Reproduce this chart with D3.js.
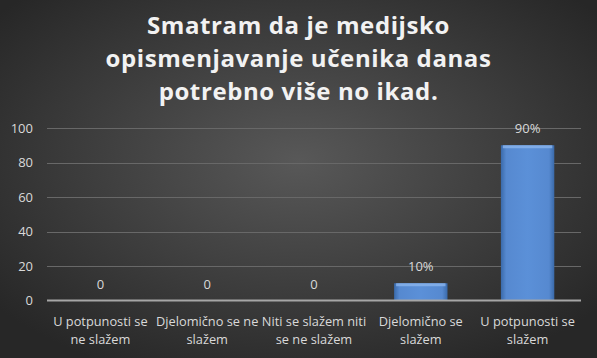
<!DOCTYPE html>
<html><head><meta charset="utf-8">
<script src="https://cdn.jsdelivr.net/npm/d3@7"></script>
<style>html,body{margin:0;padding:0;background:#3a3a3a;}svg{display:block;}</style>
</head><body>
<script>
const categories = [["U potpunosti se","ne slažem"],["Djelomično se ne","slažem"],["Niti se slažem niti","se ne slažem"],["Djelomično se","slažem"],["U potpunosti se","slažem"]];
const values = [0,0,0,10,90];
const labels = ["0","0","0","10%","90%"];
const yTicks = [0,20,40,60,80,100];
const titleLines = ["Smatram da je medijsko","opismenjavanje učenika danas","potrebno više no ikad."];

const W=597,H=358;
const svg=d3.select("body").append("svg").attr("width",W).attr("height",H);
const defs=svg.append("defs");
const bg=defs.append("radialGradient").attr("id","bg").attr("cx","50%").attr("cy","45%").attr("r","65%");
bg.append("stop").attr("offset","0%").attr("stop-color","#585858");
bg.append("stop").attr("offset","100%").attr("stop-color","#272727");
svg.append("rect").attr("width",W).attr("height",H).attr("fill","url(#bg)");

const bar=defs.append("linearGradient").attr("id","bar").attr("x1","0").attr("x2","1").attr("y1","0").attr("y2","0");
bar.append("stop").attr("offset","0%").attr("stop-color","#3a6aaa");
bar.append("stop").attr("offset","10%").attr("stop-color","#5689d0");
bar.append("stop").attr("offset","50%").attr("stop-color","#5b90d8");
bar.append("stop").attr("offset","90%").attr("stop-color","#5689d0");
bar.append("stop").attr("offset","100%").attr("stop-color","#3a6aaa");

const x=d3.scaleBand().domain(d3.range(categories.length)).range([47,581]).paddingInner(0.5).paddingOuter(0.25);
const y=d3.scaleLinear().domain([0,100]).range([300.5,128]);

// gridlines
svg.append("g").selectAll("line").data(yTicks.filter(d=>d>0)).join("line")
 .attr("x1",47).attr("x2",581).attr("y1",d=>Math.round(y(d))+0.5).attr("y2",d=>Math.round(y(d))+0.5)
 .attr("stroke","#686868").attr("stroke-width",1);

// y axis labels via axis
const yAxis=svg.append("g").attr("transform","translate(33,0)").call(d3.axisLeft(y).tickValues(yTicks).tickSize(0).tickPadding(0));
yAxis.select(".domain").remove();
yAxis.selectAll("text").attr("fill","#d9d9d9").attr("font-family","Open Sans, sans-serif").attr("font-size","13px");

// bars
svg.append("g").selectAll("rect").data(values).join("rect")
 .attr("x",(d,i)=>x(i)).attr("width",x.bandwidth())
 .attr("y",d=>y(d)).attr("height",d=>y(0)-y(d)).attr("fill","url(#bar)");
// bevel top highlight
svg.append("g").selectAll("rect").data(values.map((v,i)=>({v,i})).filter(d=>d.v>0)).join("rect")
 .attr("x",d=>x(d.i)+2).attr("width",x.bandwidth()-4)
 .attr("y",d=>y(d.v)).attr("height",3).attr("fill","#8ab4ec").attr("opacity",0.8);

// axis line
svg.append("line").attr("x1",47).attr("x2",581).attr("y1",y(0)).attr("y2",y(0)).attr("stroke","#a6a6a6").attr("stroke-width",2);

// data labels
svg.append("g").selectAll("text").data(values).join("text")
 .attr("x",(d,i)=>x(i)+x.bandwidth()/2).attr("y",d=>y(d)-12)
 .attr("text-anchor","middle").attr("fill","#d9d9d9").attr("font-family","Open Sans, sans-serif").attr("font-size","13px")
 .text((d,i)=>labels[i]);

// category labels
const cg=svg.append("g").selectAll("text").data(categories).join("text")
 .attr("text-anchor","middle").attr("fill","#d9d9d9").attr("font-family","Open Sans, sans-serif").attr("font-size","12.8px");
cg.each(function(d,i){
 const t=d3.select(this);
 d.forEach((line,j)=>t.append("tspan").attr("x",x(i)+x.bandwidth()/2).attr("y",326+j*18).text(line));
});

// title
svg.append("g").selectAll("text").data(titleLines).join("text")
 .attr("x",W/2).attr("y",(d,i)=>34+i*33).attr("text-anchor","middle")
 .attr("fill","#f2f2f2").attr("font-family","Open Sans, sans-serif").attr("font-weight","bold").attr("font-size","24px")
 .attr("letter-spacing","0.6px")
 .text(d=>d);
</script>
</body></html>
